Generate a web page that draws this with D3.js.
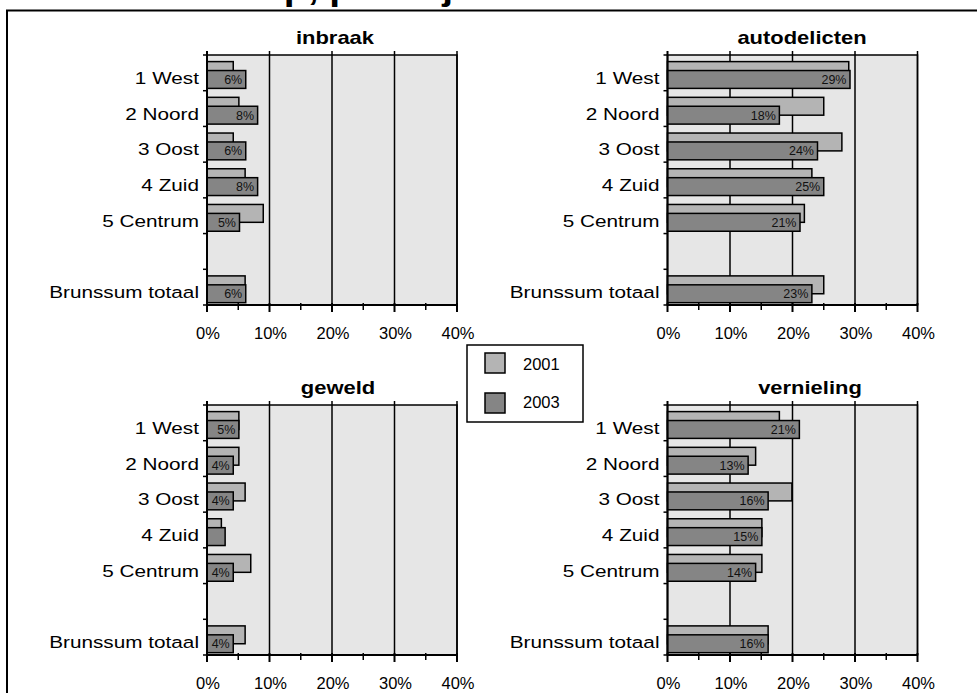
<!DOCTYPE html>
<html>
<head>
<meta charset="utf-8">
<script src="https://cdn.jsdelivr.net/npm/d3@7"></script>
<style>
  html, body { margin: 0; padding: 0; background: #ffffff; }
  svg { display: block; font-family: "Liberation Sans", Arial, sans-serif; }
</style>
</head>
<body>
<svg id="chart" width="977" height="693"></svg>
<script>
// ---------------- data ----------------
const categories = ["1 West", "2 Noord", "3 Oost", "4 Zuid", "5 Centrum", "Brunssum totaal"];
const seriesNames = ["2001", "2003"];
const xTicks = [0, 10, 20, 30, 40];
const xMinorTicks = [5, 15, 25, 35];
const panelTitles = ["inbraak", "autodelicten", "geweld", "vernieling"];

const inbraak2001 = [4.2, 5.1, 4.2, 6.1, 9.0, 6.1];
const inbraak2003 = [6.2, 8.1, 6.2, 8.1, 5.2, 6.2];
const autodelicten2001 = [29.0, 25.0, 27.9, 23.1, 21.9, 25.0];
const autodelicten2003 = [29.2, 17.9, 24.0, 25.0, 21.2, 23.1];
const geweld2001 = [5.1, 5.1, 6.1, 2.3, 7.0, 6.1];
const geweld2003 = [5.1, 4.2, 4.2, 2.9, 4.2, 4.2];
const vernieling2001 = [17.9, 14.1, 19.9, 15.1, 15.1, 16.1];
const vernieling2003 = [21.1, 12.9, 16.1, 15.1, 14.1, 16.1];

const topTitle = "Slachtofferschap, per wijk";

// ---------------- layout ----------------
const svg = d3.select("#chart");
const LIGHT = "#b4b4b4", DARK = "#858585", PLOT_BG = "#e6e6e6";
const plotW = 250, plotH = 250;

const panels = [
  { title: panelTitles[0], a: inbraak2001, b: inbraak2003, x0: 207, y0: 55, tx: 335 },
  { title: panelTitles[1], a: autodelicten2001, b: autodelicten2003, x0: 667.5, y0: 55, tx: 802 },
  { title: panelTitles[2], a: geweld2001, b: geweld2003, x0: 207, y0: 405, tx: 338 },
  { title: panelTitles[3], a: vernieling2001, b: vernieling2003, x0: 667.5, y0: 405, tx: 810 }
];

const bandDomain = categories.slice(0, 5).concat(["__gap__"], categories.slice(5));

function stretchedText(g, x, y, txt, opts) {
  return g.append("text")
    .attr("transform", `translate(${x},${y}) scale(${opts.sx || 1},1)`)
    .attr("text-anchor", opts.anchor || "start")
    .attr("font-size", opts.size)
    .attr("font-weight", opts.weight || "normal")
    .attr("fill", opts.fill || "#000")
    .text(txt);
}

// top title, cut off by the top edge as in the original (only descenders show)
stretchedText(svg, -9, -0.5, topTitle, { anchor: "start", size: 32, weight: "bold", sx: 1.22 });

// outer frame
svg.append("rect")
  .attr("x", 7).attr("y", 10.5)
  .attr("width", 1000).attr("height", 700)
  .attr("fill", "none").attr("stroke", "#000").attr("stroke-width", 2);

panels.forEach(p => {
  const g = svg.append("g");
  const x = d3.scaleLinear().domain([0, 40]).range([p.x0, p.x0 + plotW]);
  const y = d3.scaleBand().domain(bandDomain).range([p.y0, p.y0 + plotH]);
  const bw = y.bandwidth();

  g.append("rect")
    .attr("x", x(0)).attr("y", p.y0)
    .attr("width", plotW).attr("height", plotH)
    .attr("fill", PLOT_BG).attr("stroke", "#000").attr("stroke-width", 1.5);

  g.selectAll(".grid").data(xTicks.slice(1)).enter().append("line")
    .attr("x1", d => x(d)).attr("x2", d => x(d))
    .attr("y1", p.y0 - 4).attr("y2", p.y0 + plotH)
    .attr("stroke", "#000").attr("stroke-width", 1.5);

  const rows = categories.map((c, i) => ({ c, a: p.a[i], b: p.b[i] }));
  g.selectAll(".barA").data(rows).enter().append("rect")
    .attr("x", x(0)).attr("y", d => y(d.c) + bw * 0.185)
    .attr("width", d => x(d.a) - x(0)).attr("height", bw * 0.5)
    .attr("fill", LIGHT).attr("stroke", "#000").attr("stroke-width", 1.5);
  g.selectAll(".barB").data(rows).enter().append("rect")
    .attr("x", x(0)).attr("y", d => y(d.c) + bw * 0.435)
    .attr("width", d => x(d.b) - x(0)).attr("height", bw * 0.5)
    .attr("fill", DARK).attr("stroke", "#000").attr("stroke-width", 1.5);

  rows.forEach(d => {
    if (x(d.b) - x(0) < 20) return;
    stretchedText(g, x(d.b) - 3.5, y(d.c) + bw * 0.685 + 4.5, Math.round(d.b) + "%",
      { anchor: "end", size: 12.5, fill: "#111" });
  });

  g.append("line")
    .attr("x1", x(0)).attr("x2", x(40))
    .attr("y1", p.y0 + plotH).attr("y2", p.y0 + plotH)
    .attr("stroke", "#000").attr("stroke-width", 2);
  g.append("line")
    .attr("x1", x(0)).attr("x2", x(0))
    .attr("y1", p.y0 - 4).attr("y2", p.y0 + plotH)
    .attr("stroke", "#000").attr("stroke-width", 2);

  g.selectAll(".tmaj").data(xTicks).enter().append("line")
    .attr("x1", d => x(d)).attr("x2", d => x(d))
    .attr("y1", p.y0 + plotH - 2).attr("y2", p.y0 + plotH + 7)
    .attr("stroke", "#000").attr("stroke-width", 2);
  g.selectAll(".tmin").data(xMinorTicks).enter().append("line")
    .attr("x1", d => x(d)).attr("x2", d => x(d))
    .attr("y1", p.y0 + plotH - 2).attr("y2", p.y0 + plotH + 5)
    .attr("stroke", "#000").attr("stroke-width", 1.5);

  xTicks.forEach(t => {
    stretchedText(g, x(t) + 1, p.y0 + plotH + 34, t + "%", { anchor: "middle", size: 16.5 });
  });

  const bounds = bandDomain.map(c => y(c)).concat([p.y0 + plotH]);
  g.selectAll(".ctick").data(bounds).enter().append("line")
    .attr("x1", x(0) - 4).attr("x2", x(0))
    .attr("y1", d => d).attr("y2", d => d)
    .attr("stroke", "#000").attr("stroke-width", 1.5);

  categories.forEach(c => {
    stretchedText(g, x(0) - 8, y(c) + 23 + 6, c, { anchor: "end", size: 17, sx: 1.22 });
  });

  stretchedText(g, p.tx, p.y0 - 11, p.title, { anchor: "middle", size: 18, weight: "bold", sx: 1.22 });
});

// legend
const lg = svg.append("g");
lg.append("rect").attr("x", 467).attr("y", 345).attr("width", 116).attr("height", 77)
  .attr("fill", "#fff").attr("stroke", "#000").attr("stroke-width", 1.5);
seriesNames.forEach((s, i) => {
  lg.append("rect").attr("x", 485).attr("y", 353 + i * 40).attr("width", 20).attr("height", 20)
    .attr("fill", i === 0 ? LIGHT : DARK).attr("stroke", "#000").attr("stroke-width", 1.5);
  stretchedText(lg, 523, 369.5 + i * 38, s, { anchor: "start", size: 16.5 });
});
</script>
</body>
</html>
